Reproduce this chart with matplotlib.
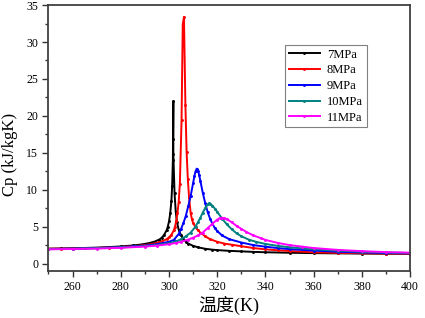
import matplotlib
matplotlib.use("Agg")
import matplotlib.pyplot as plt
from matplotlib.ticker import MultipleLocator

# ---- data ----
labels = ["7MPa", "8MPa", "9MPa", "10MPa", "11MPa"]
colors = ["#000000", "#ff0000", "#0000ff", "#008080", "#ff00ff"]

T7 = [250, 255, 260, 265, 270, 275, 280, 285, 288, 290, 292, 294, 296, 297, 298, 299, 299.5,
      300, 300.5, 301, 301.3, 301.6, 301.8, 301.8, 301.8, 302.3, 302.8, 303.3, 304, 305, 306,
      307, 308, 310, 312, 315, 318, 320, 325, 330, 335, 340, 350, 360, 370, 380, 390, 400]
cp7 = [2.02, 2.04, 2.07, 2.11, 2.16, 2.23, 2.32, 2.45, 2.56, 2.66, 2.79, 2.97, 3.25, 3.5, 3.9,
       4.5, 5.0, 5.7, 6.8, 8.5, 10.5, 14.0, 22.0, 16.9, 14.8, 9.5, 7.0, 5.6, 4.6, 3.8, 3.3,
       2.95, 2.7, 2.4, 2.2, 2.0, 1.88, 1.82, 1.72, 1.65, 1.58, 1.53, 1.46, 1.41, 1.38, 1.35,
       1.33, 1.31]

T8 = [250, 255, 260, 265, 270, 275, 280, 285, 290, 293, 295, 297, 299, 300, 301, 302, 302.5,
      303, 303.5, 304, 304.5, 305.2, 305.7, 306.2, 306.8, 307.3, 307.8, 308.3, 309, 309.5,
      310, 311, 312, 313, 315, 317, 320, 323, 326, 330, 335, 340, 345, 350, 360, 370, 380,
      390, 400]
cp8 = [2.0, 2.02, 2.04, 2.07, 2.11, 2.16, 2.23, 2.34, 2.5, 2.65, 2.8, 3.0, 3.3, 3.55, 3.9,
       4.5, 5.0, 5.8, 6.8, 8.3, 10.8, 19.4, 32.4, 33.4, 21.5, 15.1, 11.5, 9.0, 6.8, 6.0, 5.5,
       4.9, 4.5, 4.2, 3.7, 3.3, 2.95, 2.7, 2.55, 2.35, 2.1, 1.92, 1.8, 1.7, 1.52, 1.45, 1.4,
       1.36, 1.34]

T9 = [250, 260, 270, 280, 285, 290, 295, 300, 302, 304, 305, 306, 307, 308, 309, 310, 310.5,
      311, 311.5, 312, 312.5, 313, 314, 315, 316, 317, 318, 319, 320, 322, 325, 330, 335, 340,
      345, 350, 360, 370, 380, 390, 400]
cp9 = [1.97, 2.02, 2.1, 2.22, 2.31, 2.43, 2.62, 2.95, 3.2, 4.0, 4.7, 5.5, 6.5, 7.8, 9.2, 10.9,
       11.8, 12.5, 12.85, 12.6, 12.0, 11.2, 9.6, 8.2, 7.0, 6.1, 5.4, 4.8, 4.4, 3.8, 3.3, 2.85,
       2.5, 2.28, 2.1, 1.95, 1.75, 1.6, 1.5, 1.43, 1.38]

T10 = [250, 260, 270, 280, 290, 295, 300, 303, 305, 307, 309, 311, 312, 313, 314, 315, 316,
       316.5, 317, 318, 319, 320, 322, 324, 326, 328, 330, 333, 336, 340, 345, 350, 360, 370,
       380, 390, 400]
cp10 = [1.95, 2.0, 2.07, 2.18, 2.36, 2.5, 2.75, 3.0, 3.3, 3.7, 4.2, 5.0, 5.6, 6.2, 6.9, 7.5,
        8.0, 8.15, 8.1, 7.85, 7.45, 7.0, 6.1, 5.3, 4.65, 4.1, 3.7, 3.25, 2.95, 2.65, 2.4, 2.2,
        1.93, 1.74, 1.6, 1.5, 1.43]

T11 = [250, 260, 270, 280, 290, 295, 300, 303, 305, 308, 310, 312, 314, 316, 318, 320, 321,
       322, 323, 324, 326, 328, 330, 332, 335, 338, 340, 345, 350, 355, 360, 370, 380, 390, 400]
cp11 = [1.93, 1.97, 2.03, 2.13, 2.3, 2.43, 2.62, 2.8, 2.95, 3.25, 3.5, 3.8, 4.2, 4.8, 5.4,
        5.95, 6.15, 6.2, 6.15, 6.0, 5.6, 5.1, 4.7, 4.3, 3.8, 3.45, 3.2, 2.8, 2.5, 2.3, 2.1,
        1.85, 1.68, 1.55, 1.47]

series = [(T7, cp7), (T8, cp8), (T9, cp9), (T10, cp10), (T11, cp11)]

xticks = [260, 280, 300, 320, 340, 360, 380, 400]
yticks = [0, 5, 10, 15, 20, 25, 30, 35]

# ---- figure ----
serif = ["Liberation Serif", "Noto Sans CJK SC"]
plt.rcParams["font.family"] = serif

fig = plt.figure(figsize=(4.25, 3.18), dpi=100)
ax = fig.add_axes([0.114, 0.148, 0.851, 0.836])

for (t, c), lab, col in zip(series, labels, colors):
    ax.plot(t, c, color=col, lw=1.4, marker=".", ms=2.2, label=lab)

ax.set_xlim(250, 400)
ax.set_ylim(-1, 35)
ax.set_xticks(xticks)
ax.set_yticks(yticks)
ax.xaxis.set_minor_locator(MultipleLocator(10))
ax.yaxis.set_minor_locator(MultipleLocator(2.5))
ax.tick_params(which="both", direction="out", labelsize=8.5, color="#333333",
               top=False, right=False)
ax.tick_params(which="major", length=4, width=1)
ax.tick_params(which="minor", length=2.5, width=1)

for s in ax.spines.values():
    s.set_color("#404040")
    s.set_linewidth(1.3)

ax.set_xlabel("温度(K)", fontsize=13, family=serif, labelpad=2)
ax.set_ylabel("Cp (kJ/kgK)", fontsize=12, family=serif, labelpad=2)
ax.yaxis.set_label_coords(-0.085, 0.44)

leg = ax.legend(loc="upper left", bbox_to_anchor=(0.654, 0.85), fontsize=9,
                frameon=True, fancybox=False, edgecolor="#808080", framealpha=1,
                handlelength=2.5, handletextpad=0.55, labelspacing=0.3,
                borderpad=0.3, borderaxespad=0, numpoints=1)
leg.get_frame().set_linewidth(0.8)

fig.savefig("out.png", dpi=100)
